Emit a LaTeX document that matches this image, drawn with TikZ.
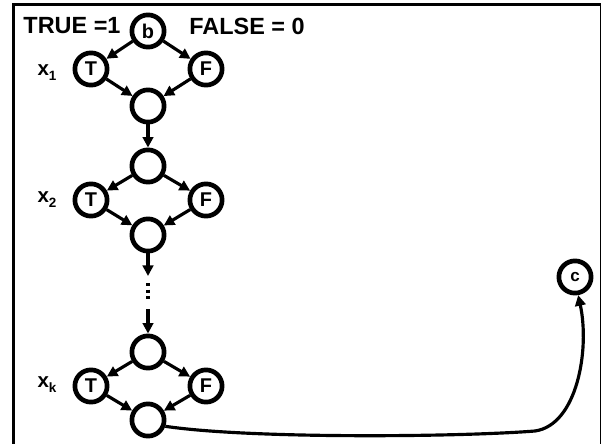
\documentclass[tikz,border=0pt]{standalone}
\usepackage{fontspec}
\setmainfont{Liberation Sans}
\usetikzlibrary{arrows.meta}

\tikzset{
  var/.style={circle, draw, line width=4pt, minimum size=27.5pt, inner sep=0pt,
    font=\fontsize{17}{17}\selectfont\bfseries},
  flow/.style={line width=2.7pt, -{Triangle[length=9pt,width=9pt]}},
  lbl/.style={font=\fontsize{20}{20}\selectfont\bfseries},
  xlbl/.style={font=\fontsize{17.5}{17.5}\selectfont\bfseries},
}
\newcommand{\xsub}[1]{x\raisebox{-0.45ex}{\fontsize{11.5}{11.5}\selectfont #1}}

\begin{document}
\begin{tikzpicture}[x=0.03cm, y=-0.03cm]
  \useasboundingbox (0,0) rectangle (602,444);

  % Frame
  \draw[line width=2.6pt] (13.3,444) -- (13.3,4.7) -- (600.5,4.7);
  \draw[line width=1.5pt] (600.5,4.7) -- (600.5,444);

  % Legend
  \node[lbl] (truelbl) at (72,26) {TRUE =1};
  \node[lbl] (falselbl) at (247,26) {FALSE = 0};

  % Block x_1
  \node[var] (b) at (148,31) {b};
  \node[var] (t1) at (91,69) {T};
  \node[var] (f1) at (206,69) {F};
  \node[var] (j1) at (148,106) {};
  \node[xlbl] (x1) at (47,73) {\xsub{1}};
  \draw[flow] (b) -- (t1);
  \draw[flow] (b) -- (f1);
  \draw[flow] (t1) -- (j1);
  \draw[flow] (f1) -- (j1);

  % Block x_2
  \node[var] (s2) at (148,166) {};
  \node[var] (t2) at (91,200) {T};
  \node[var] (f2) at (206,200) {F};
  \node[var] (j2) at (148,235) {};
  \node[xlbl] (x2) at (47,200) {\xsub{2}};
  \draw[flow] (j1) -- (s2);
  \draw[flow] (s2) -- (t2);
  \draw[flow] (s2) -- (f2);
  \draw[flow] (t2) -- (j2);
  \draw[flow] (f2) -- (j2);

  % Dots
  \coordinate (dota) at (148,276);
  \coordinate (dotb) at (148,283);
  \coordinate (dotc) at (148,302);
  \coordinate (dotd) at (148,309);
  \draw[flow] (j2) -- (dota);
  \draw[line width=2.8pt, dash pattern=on 2.8pt off 2.8pt] (dotb) -- (dotc);

  % Block x_k
  \node[var] (sk) at (148,352) {};
  \node[var] (tk) at (91,386) {T};
  \node[var] (fk) at (206,386) {F};
  \node[var] (jk) at (148,420) {};
  \node[xlbl] (xk) at (47,385) {\xsub{k}};
  \draw[flow] (dotd) -- (sk);
  \draw[flow] (sk) -- (tk);
  \draw[flow] (sk) -- (fk);
  \draw[flow] (tk) -- (jk);
  \draw[flow] (fk) -- (jk);

  % Target c
  \node[var, font=\fontsize{14.5}{14.5}\selectfont\bfseries] (c) at (575,277) {c};
  \coordinate (bend) at (535,431);
  \draw[flow] (jk.-20) .. controls (250,439) and (460,437) .. (bend)
    .. controls (577,425) and (590,350) .. (c.-80);
\end{tikzpicture}
\end{document}
